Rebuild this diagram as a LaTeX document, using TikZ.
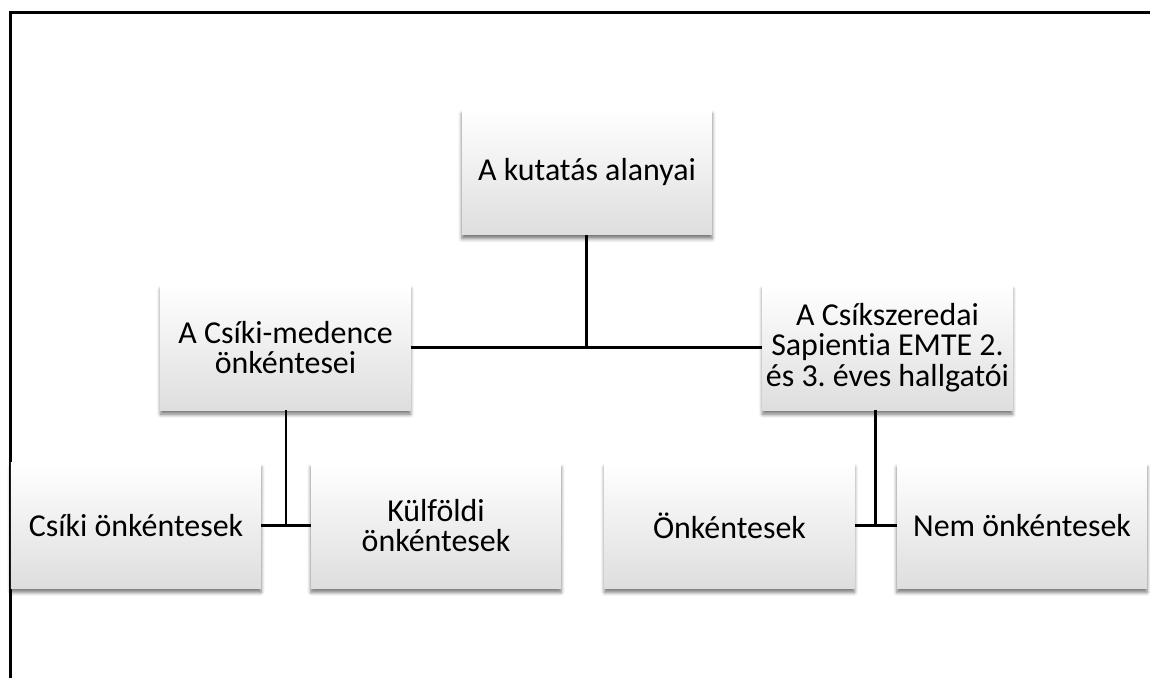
\documentclass[tikz,border=0pt]{standalone}
\usepackage{fontspec}
\setmainfont[Ligatures=NoCommon]{Carlito}
\usetikzlibrary{positioning,calc,shadows,shadows.blur}

\begin{document}
\frenchspacing
\begin{tikzpicture}[
    x=0.025cm, y=-0.025cm,
    font=\fontsize{22.7}{21.6}\selectfont,
    unit/.style={
        draw=none,
        top color=white,
        middle color=white!96!black,
        bottom color=black!13,
        align=center,
        inner sep=2pt,
        minimum width=6.25cm,
        minimum height=3.125cm,
        blur shadow={shadow xshift=0pt, shadow yshift=-3pt,
            shadow blur radius=2.5pt, shadow opacity=55}
    },
    link/.style={
        line width=2pt,
        draw=black
    },
    frame/.style={
        line width=1.6pt,
        draw=black
    }
]

% ---------------------------------------------------------
% Canvas and frame
% ---------------------------------------------------------
\path[use as bounding box] (0,0) rectangle (1150,678);
\draw[frame] (1150,12.5) -- (10.5,12.5) -- (10.5,678);

% ---------------------------------------------------------
% Boxes
% ---------------------------------------------------------
\node[unit] (root) at (587,172) {A kutatás alanyai};

\node[unit] (basin) at (285.5,347.5)
    {A Csíki-medence\\önkéntesei};
\node[unit] (students) at (887.5,347.5)
    {A Csíkszeredai\\Sapientia EMTE 2.\\és 3. éves hallgatói};

\node[unit] (local) at (136,525.5) {Csíki önkéntesek};
\node[unit] (foreign) at (436,525.5) {Külföldi\\önkéntesek};
\node[unit] (vol) at (729.5,525.5) {Önkéntesek};
\node[unit] (nonvol) at (1022,525.5) {Nem önkéntesek};

% ---------------------------------------------------------
% Connectors
% ---------------------------------------------------------
\coordinate (topjoin) at ($(basin.east)!0.5!(students.west)$);
\coordinate (leftjoin) at ($(local.east)!0.5!(foreign.west)$);
\coordinate (rightjoin) at ($(vol.east)!0.5!(nonvol.west)$);

\draw[link] (basin.east) -- (students.west);
\draw[link] (root.south -| topjoin) -- (topjoin);

\draw[link] (local.east) -- (foreign.west);
\draw[link] (basin.south -| leftjoin) -- (leftjoin);

\draw[link] (vol.east) -- (nonvol.west);
\draw[link] (students.south -| rightjoin) -- (rightjoin);

\end{tikzpicture}
\end{document}
